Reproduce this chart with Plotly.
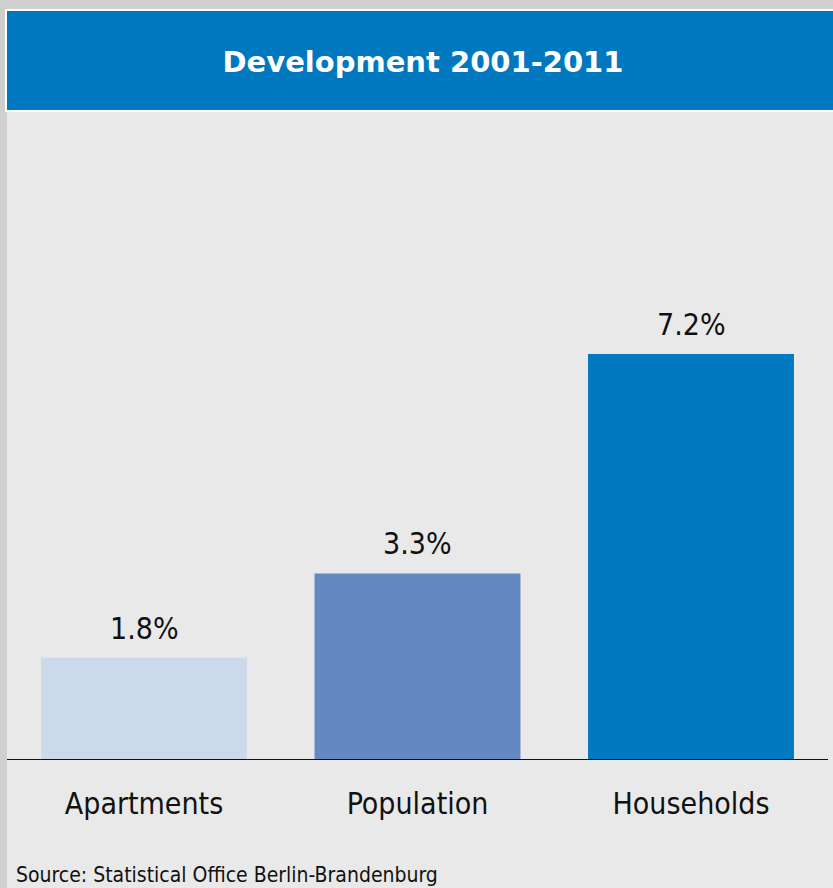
import plotly.graph_objects as go

# Change in Berlin 2001-2011, percent
categories = ["Apartments", "Population", "Households"]
growth_pct = [1.8, 3.3, 7.2]
bar_colors = ["#cbd9ea", "#6688c2", "#0079c1"]
title_text = "Development 2001-2011"
source_text = "Source: Statistical Office Berlin-Brandenburg"

W, H = 833, 888
FONT = "DejaVu Sans Condensed, DejaVu Sans, sans-serif"


def px_x(x):
    return x / W


def px_y(y):
    return 1 - y / H


fig = go.Figure(
    go.Bar(
        x=categories,
        y=growth_pct,
        marker=dict(color=bar_colors, line=dict(width=0)),
        hoverinfo="skip",
    )
)

# value labels above each bar
for cat, val in zip(categories, growth_pct):
    fig.add_annotation(
        x=cat, y=val, xref="x", yref="y",
        text=f"{val:.1f}%", showarrow=False,
        yanchor="bottom", yshift=10,
        font=dict(family=FONT, size=30, color="#111111"),
    )

# source note along the bottom edge
fig.add_annotation(
    x=px_x(15), y=0, xref="paper", yref="paper",
    xanchor="left", yanchor="bottom", showarrow=False,
    borderpad=0,
    text=source_text,
    font=dict(family=FONT, size=21, color="#111111"),
)

shapes = [
    # panel background
    dict(type="rect", xref="paper", yref="paper", layer="below",
         x0=px_x(7), x1=1, y0=0, y1=px_y(111),
         fillcolor="#e8e9e8", line=dict(width=0)),
    # white frame of header
    dict(type="rect", xref="paper", yref="paper", layer="below",
         x0=px_x(5), x1=1, y0=px_y(112), y1=px_y(9),
         fillcolor="#ffffff", line=dict(width=0)),
    # header band
    dict(type="rect", xref="paper", yref="paper", layer="below",
         x0=px_x(7), x1=1, y0=px_y(110), y1=px_y(11),
         fillcolor="#0078c0", line=dict(width=0)),
]

y_top = 648 / 56.25
fig.update_layout(
    width=W, height=H,
    margin=dict(l=0, r=0, t=0, b=0),
    paper_bgcolor="#cfcfcf",
    plot_bgcolor="rgba(0,0,0,0)",
    showlegend=False,
    bargap=0.247,
    shapes=shapes,
    title=dict(
        text=f"<b>{title_text}</b>",
        x=px_x(423), xanchor="center",
        y=px_y(62), yanchor="middle",
        xref="paper", yref="container",
        font=dict(family="DejaVu Sans, sans-serif", size=29, color="#ffffff"),
    ),
    xaxis=dict(
        domain=[px_x(7.25), px_x(827.75)],
        range=[-0.5, 2.5],
        showline=True, linecolor="#111111", linewidth=1,
        showgrid=False, zeroline=False, ticks="",
        tickfont=dict(family=FONT, size=30, color="#111111"),
        ticklabelstandoff=18,
        automargin=False,
        fixedrange=True,
    ),
    yaxis=dict(
        domain=[px_y(759), px_y(111)],
        range=[0, y_top],
        visible=False,
        showgrid=False, zeroline=False,
        fixedrange=True,
    ),
)

fig.write_html("out.html")
